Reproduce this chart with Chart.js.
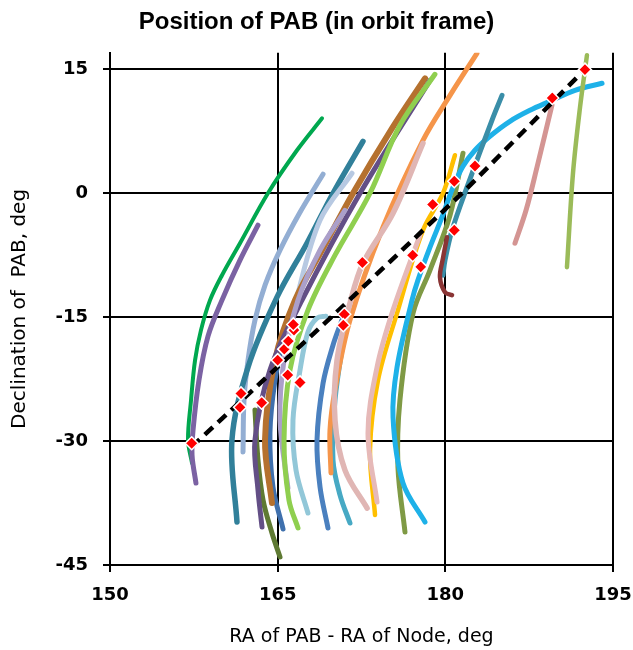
<!DOCTYPE html>
<html><head><meta charset="utf-8">
<script src="https://cdn.jsdelivr.net/npm/chart.js@4/dist/chart.umd.min.js"></script>
<style>html,body{margin:0;padding:0;background:#fff}</style>
</head><body>
<canvas id="c" width="633" height="650"></canvas>
<script>
// ---- data: each track is a list of [RA of PAB - RA of Node (deg), Declination (deg)]
const trackGreen      = [[168.97,9.07],[166.73,5.20],[164.13,0.0],[161.63,-6.05],[160.02,-9.92],[158.95,-12.94],[158.14,-16.57],[157.61,-20.20],[157.25,-25.04],[156.98,-29.88],[157.34,-32.66]];
const trackPurple     = [[163.24,-3.87],[161.63,-8.10],[160.02,-12.94],[158.77,-17.30],[157.96,-22.62],[157.43,-28.67],[157.34,-31.70],[157.69,-35.08]];
const trackSteel      = [[169.06,2.30],[167.00,-2.30],[165.21,-6.89],[163.87,-11.13],[162.97,-15.36],[162.35,-20.20],[161.99,-25.04],[161.90,-31.33]];
const trackTeal       = [[172.63,6.29],[169.95,0.0],[167.62,-6.05],[164.94,-12.58],[162.35,-21.05],[160.91,-29.88],[161.36,-39.80]];
const trackPaleBlue   = [[171.65,2.42],[168.79,-3.27],[166.73,-12.58],[165.92,-17.78]];
const trackBrown      = [[178.18,13.91],[175.23,7.86],[171.74,0.0],[168.97,-6.89],[166.55,-12.94],[164.76,-20.20],[163.87,-29.88],[164.49,-37.50]];
const trackDarkPurple = [[178.63,13.67],[172.37,0.0],[167.18,-12.94],[164.31,-21.41],[162.97,-29.88],[163.24,-35.93],[163.60,-40.40]];
const trackLime       = [[179.07,14.40],[175.94,8.23],[173.26,0.0],[170.13,-7.50],[167.71,-14.15],[166.10,-21.41],[165.57,-29.88],[166.01,-37.14],[166.82,-40.52]];
const trackLavender   = [[171.02,-2.06],[168.79,-6.89],[166.82,-12.94],[165.57,-20.20],[165.21,-27.46],[165.92,-35.69]];
const trackLightCyan  = [[169.32,-14.88],[168.52,-15.12],[167.71,-16.81],[167.00,-21.41],[166.37,-27.46],[166.64,-33.51],[167.71,-38.71]];
const trackBlueMid    = [[170.75,-15.36],[169.95,-18.39],[169.06,-23.00],[168.52,-29.88],[168.79,-35.56],[169.50,-40.52]];
const trackBlueDark   = [[165.66,-16.57],[164.76,-22.62],[164.31,-29.03],[164.58,-35.56],[165.48,-40.64]];
const trackDarkOlive  = [[162.97,-26.25],[163.24,-32.30],[163.69,-37.14],[164.49,-41.13],[165.21,-44.03]];
const trackOrange     = [[182.83,16.94],[180.42,11.85],[178.00,6.41],[174.42,-4.11],[171.47,-15.36],[170.13,-23.83],[169.68,-28.67],[169.77,-33.87]];
const trackMidTeal    = [[171.02,-16.57],[170.13,-25.04],[169.95,-32.30],[170.58,-36.53],[171.47,-39.92]];
const trackRose       = [[178.00,6.05],[175.32,-2.42],[172.63,-8.47],[171.47,-13.31],[170.31,-20.20],[170.13,-27.46],[171.02,-33.51],[173.00,-38.11]];
const trackYellow     = [[180.86,4.60],[179.79,0.0],[178.00,-4.48],[175.68,-14.52],[173.98,-22.62],[173.26,-31.09],[173.71,-38.95]];
const trackRose2      = [[177.73,-5.08],[175.32,-14.15],[173.89,-21.05],[173.08,-29.03],[173.89,-37.38]];
const trackOlive      = [[181.58,4.84],[180.42,-2.66],[178.63,-9.31],[177.11,-14.52],[175.94,-25.04],[175.76,-33.14],[176.39,-41.00]];
const trackSky        = [[194.02,13.31],[191.60,12.46],[189.36,11.13],[187.57,10.04],[185.78,8.71],[183.99,6.90],[182.65,5.20],[181.58,3.27],[180.69,0.73],[179.70,-2.90],[178.63,-6.53],[177.55,-10.52],[177.02,-12.94],[175.68,-21.05],[175.32,-27.10],[176.21,-35.08],[178.18,-39.80]];
const trackTealRight  = [[185.07,11.85],[184.17,8.83],[181.94,0.73],[180.60,-4.48],[179.97,-8.10],[179.79,-9.92]];
const trackMaroon     = [[180.15,-5.32],[179.79,-7.86],[179.52,-10.16],[179.97,-11.97],[180.60,-12.34]];
const trackDustyRose  = [[189.54,10.65],[188.20,3.15],[187.22,-2.06],[186.23,-6.05]];
const trackLightOlive = [[192.67,16.70],[192.05,10.40],[191.42,2.42],[190.88,-8.95]];

const trendRA  = [157.3, 169.8, 181.5, 192.5];
const trendDec = [-30.7, -15.0, 0.0, 15.0];

const markerRA  = [157.31,161.72,161.63,163.57,165.00,165.59,165.95,166.46,166.40,165.90,167.00,170.96,170.87,172.58,178.87,177.08,177.80,180.80,182.65,180.80,189.57,192.49];
const markerDec = [-30.27,-24.23,-25.92,-25.36,-20.20,-18.87,-17.90,-16.57,-15.88,-22.01,-22.90,-14.64,-15.97,-8.38,-1.37,-7.50,-8.91,1.45,3.30,-4.48,11.53,14.96];

const xTicks = [150, 165, 180, 195];
const yTicks = [-45, -30, -15, 0, 15];

// ---- styles (kept apart from data)
const tracks = [
  [trackGreen, '#00a84f', 4],
  [trackPurple, '#7b62a3', 5],
  [trackSteel, '#93aed3', 5],
  [trackTeal, '#31809a', 5.5],
  [trackDarkOlive, '#5f7a33', 5],
  [trackBlueDark, '#3f70ad', 5],
  [trackPaleBlue, '#b7c9e2', 5],
  [trackBrown, '#b5712f', 6],
  [trackDarkPurple, '#634f86', 5],
  [trackLavender, '#ab9fca', 5],
  [trackLime, '#8fcf4f', 5],
  [trackLightCyan, '#92c7d8', 5],
  [trackBlueMid, '#4a80bf', 5],
  [trackMidTeal, '#47a9c4', 5],
  [trackOrange, '#f5954a', 5],
  [trackRose, '#e0b6b4', 5.5],
  [trackYellow, '#ffbf00', 4.5],
  [trackRose2, '#e6b9b8', 5],
  [trackOlive, '#7f9a45', 5],
  [trackSky, '#1eb1e8', 5],
  [trackTealRight, '#3a8ea8', 5],
  [trackMaroon, '#8a3535', 4.5],
  [trackDustyRose, '#d49593', 5],
  [trackLightOlive, '#9bbb59', 4.5]
];

const datasets = [];
datasets.push({
  label: 'PAB points',
  data: markerRA.map((x, i) => ({x, y: markerDec[i]})),
  showLine: false,
  pointStyle: 'rectRot',
  pointRadius: 6.5,
  pointBackgroundColor: '#ff0000',
  pointBorderColor: '#ffffff',
  pointBorderWidth: 1.5,
  order: 0
});
datasets.push({
  label: 'Trend',
  data: trendRA.map((x, i) => ({x, y: trendDec[i]})),
  showLine: true,
  borderColor: '#000000',
  borderWidth: 4.5,
  borderDash: [11, 7],
  pointRadius: 0,
  tension: 0,
  order: 1
});
tracks.forEach(([pts, color, w], i) => {
  datasets.push({
    label: 'Track ' + (i + 1),
    data: pts.map(p => ({x: p[0], y: p[1]})),
    showLine: true,
    borderColor: color,
    borderWidth: w,
    borderCapStyle: 'round',
    pointRadius: 0,
    tension: 0.35,
    order: 100 - i
  });
});

new Chart(document.getElementById('c'), {
  type: 'scatter',
  data: {datasets},
  options: {
    responsive: false,
    animation: false,
    layout: {padding: {left: 0, right: 0, top: 0, bottom: 0}},
    plugins: {
      legend: {display: false},
      tooltip: {enabled: false},
      title: {
        display: true,
        text: 'Position of PAB (in orbit frame)',
        color: '#000',
        font: {family: 'Liberation Sans', size: 24, weight: 'bold'},
        padding: {top: 8, bottom: 16}
      }
    },
    scales: {
      x: {
        type: 'linear', min: 150, max: 195,
        afterBuildTicks: s => { s.ticks = xTicks.map(v => ({value: v})); },
        afterFit: s => { s.height = 85; s.paddingRight = 20; s.paddingLeft = 0; },
        ticks: {color: '#000', padding: 13, maxRotation: 0, font: {family: 'DejaVu Sans', size: 18, weight: 'bold'}},
        grid: {color: '#000', lineWidth: 2, tickLength: 7},
        border: {color: '#000', width: 2},
        title: {display: true, text: 'RA of PAB - RA of Node, deg', color: '#000',
                font: {family: 'DejaVu Sans', size: 19}, padding: {top: 0, bottom: 2}}
      },
      y: {
        type: 'linear', min: -45, max: 17,
        afterBuildTicks: s => { s.ticks = yTicks.map(v => ({value: v})); },
        afterFit: s => { s.width = 110; },
        ticks: {color: '#000', padding: 15, font: {family: 'DejaVu Sans', size: 18, weight: 'bold'}},
        grid: {color: '#000', lineWidth: 2, tickLength: 7},
        border: {color: '#000', width: 2},
        title: {display: true, text: 'Declination of  PAB, deg', color: '#000',
                font: {family: 'DejaVu Sans', size: 20}, padding: {top: 8, bottom: 0}}
      }
    }
  }
});
</script>
</body></html>
